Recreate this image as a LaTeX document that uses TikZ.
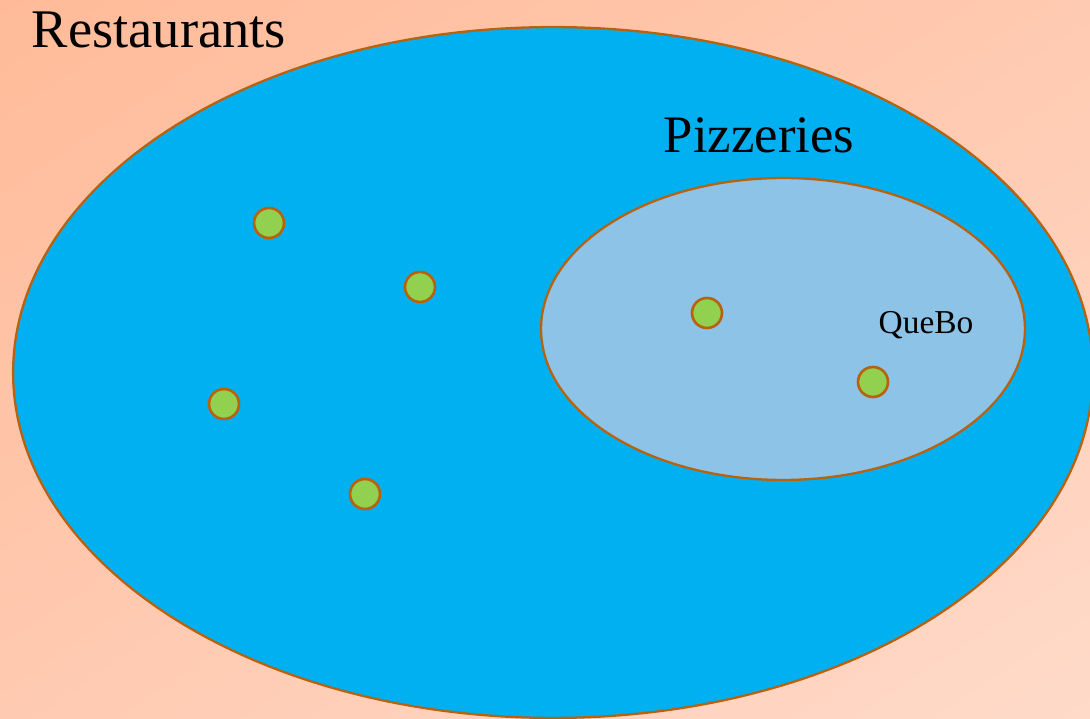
\documentclass[tikz,border=0pt]{standalone}
\usepackage{fontspec}
\setmainfont{Liberation Serif}
\usetikzlibrary{positioning,shadings}

\definecolor{bgdark}{HTML}{FFBB99}
\definecolor{bglight}{HTML}{FFDAC9}
\definecolor{bgmid}{HTML}{FFCAB1}
\definecolor{setblue}{HTML}{00B0F0}
\definecolor{subblue}{HTML}{8CC3E6}
\definecolor{rimbrown}{HTML}{B8620E}
\definecolor{dotgreen}{HTML}{92D050}

\begin{document}
\begin{tikzpicture}[x=0.02cm, y=-0.02cm,
    dot/.style={circle, draw=rimbrown, fill=dotgreen, line width=1.5pt, minimum size=0.6cm, inner sep=0pt},
    setrim/.style={draw=rimbrown, line width=1.3pt},
    biglabel/.style={font=\fontsize{31}{35}\selectfont, inner sep=0pt},
    smalllabel/.style={font=\fontsize{19}{22}\selectfont, inner sep=0pt}
]
% background
\shade[upper left=bgdark, upper right=bgmid, lower left=bgmid, lower right=bglight] (0,0) rectangle (1090,719);
\useasboundingbox (0,0) rectangle (1090,719);

% sets
\draw[setrim, fill=setblue] (553,372.5) ellipse [x radius=10.8cm, y radius=6.91cm];
\draw[setrim, fill=subblue] (783,329) ellipse [x radius=4.84cm, y radius=3.02cm];

\node[biglabel] (rest) at (159,30) {Restaurants};
\node[biglabel, font=\fontsize{30}{34}\selectfont] (pizz) at (759,135) {Pizzeries};
\node[smalllabel] (quebo) at (926,325) {QueBo};

% elements
\node[dot] (r1) at (269,223) {};
\node[dot] (r2) at (420,287) {};
\node[dot] (r3) at (224,404) {};
\node[dot] (r4) at (365,494) {};
\node[dot] (p1) at (707,313) {};
\node[dot] (p2) at (873,382) {};
\end{tikzpicture}
\end{document}
